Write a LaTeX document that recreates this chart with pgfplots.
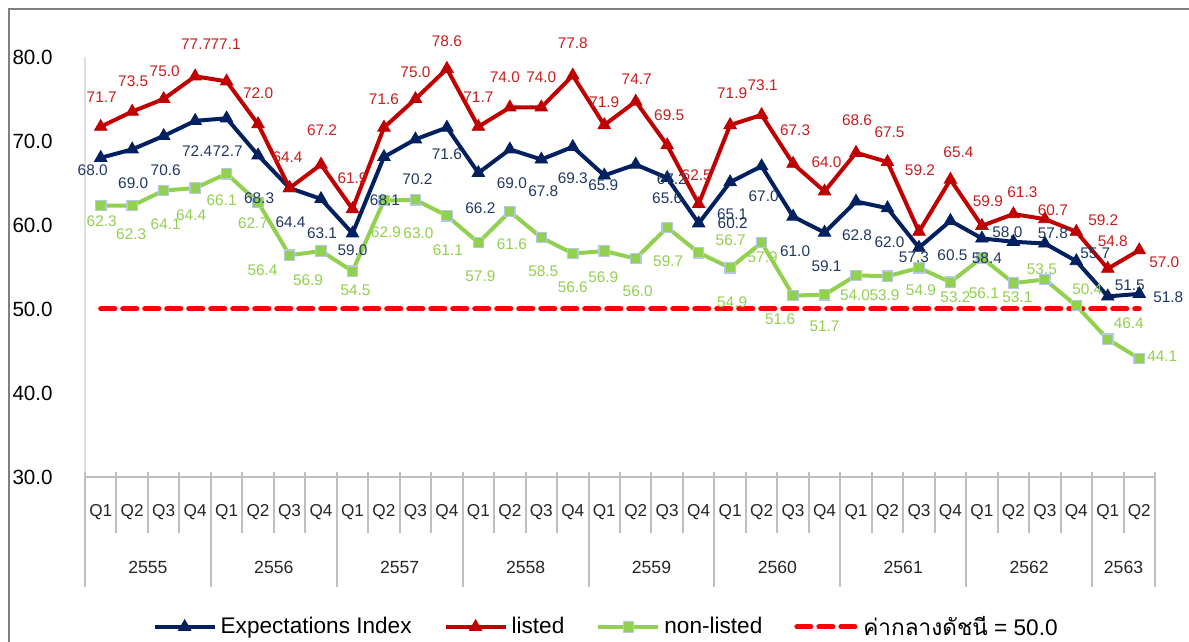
\documentclass[border=0pt]{standalone}
\usepackage{fontspec}
\setmainfont{Liberation Sans}
\newfontfamily\thaifont[Script=Thai]{Loma}
\usepackage{pgfplots}
\usepackage{pgfplotstable}
\pgfplotsset{compat=1.18}
\definecolor{navy}{HTML}{002060}
\definecolor{navylab}{HTML}{203864}
\definecolor{lred}{HTML}{C00000}
\definecolor{redlab}{HTML}{C81E1E}
\definecolor{lgreen}{HTML}{92D050}
\definecolor{sqedge}{HTML}{B4C7E7}
\definecolor{axgray}{HTML}{BFBFBF}

\pgfplotstableread{
k listed ldx ldy exp edx edy non ndx ndy
0  71.7  1 30  68.0 -8 -12  62.3   1 -16
1  73.5  1 30  69.0  1 -34  62.3  -1 -29
2  75.0  1 28  70.6  2 -34  64.1   2 -34
3  77.7  1 32  72.4  2 -30  64.4  -4 -27
4  77.1 -1 37  72.7  1 -33  66.1  -5 -26
5  72.0  0 31  68.3  1 -43  62.7  -5 -21
6  64.4 -2 31  64.4  1 -34  56.4 -27 -15
7  67.2  1 34  63.1  1 -34  56.9 -13 -29
8  61.9  0 31  59.0  0 -17  54.5   3 -19
9  71.6  0 28  68.1  1 -43  62.9   2 -32
10 75.0  0 27  70.2  2 -40  63.0   3 -33
11 78.6  0 28  71.6  0 -27  61.1   1 -34
12 71.7  0 30  66.2  2 -35  57.9   2 -34
13 74.0 -5 30  69.0  2 -34  61.6   2 -33
14 74.0  0 30  67.8  2 -32  58.5   2 -34
15 77.8  0 32  69.3  0 -31  56.6   0 -34
16 71.9  0 23  65.9 -1 -10  56.9  -1 -26
17 74.7  1 22  67.2 36 -15  56.0   2 -33
18 69.5  2 30  65.6  0 -20  59.7   1 -34
19 62.5 -2 29  60.2 34   0  56.7  32  13
20 71.9  2 32  65.1  2 -32  54.9   2 -34
21 73.1  1 30  67.0  2 -30  57.9   1 -15
22 67.3  2 33  61.0  2 -35  51.6 -13 -24
23 64.0  2 29  59.1  2 -34  51.7   0 -32
24 68.6  1 33  62.8  1 -34  54.0  -1 -20
25 67.5  2 30  62.0  2 -34  53.9  -3 -19
26 59.2  1 62  57.3 -5 -10  54.9   2 -22
27 65.4  8 27  60.5  2 -34  53.2   5 -15
28 59.9  6 25  58.4  5 -20  56.1   2 -35
29 61.3  9 22  58.0 -6  10  53.1   4 -14
30 60.7  8  9  57.8  8  10  53.5  -3  10
31 59.2 27 12  55.7 19   8  50.4  11  16
32 54.8  5 27  51.5 22  11  46.4  21  16
33 57.0 25 -12 51.8 29  -3  44.1  23   2
}\datatable

\pgfplotsset{
  labelonly/.style={forget plot, only marks, mark=text, text mark={},
    mark options={draw=none, fill=none},
    nodes near coords={\pgfmathprintnumber[fixed,fixed zerofill,precision=1,assume math mode=true]{\pgfplotspointmeta}}},
}

\begin{document}
\begin{tikzpicture}
\useasboundingbox (0,0) rectangle (594.5pt,321pt);
\fill[white] (0,0) rectangle (594.5pt,321pt);
% outer frame (left and top visible)
\draw[gray, line width=1pt] (4.5pt,0pt) -- (4.5pt,316.5pt) -- (594.5pt,316.5pt);
\begin{axis}[
  at={(42.5pt,82.5pt)}, anchor=south west,
  scale only axis, width=535pt, height=210pt,
  xmin=-0.5, xmax=33.5, ymin=30, ymax=80,
  clip=false,
  axis x line*=bottom, axis y line*=left,
  x axis line style={-, draw=axgray, line width=1pt},
  y axis line style={-, draw=gray!25, line width=1pt},
  major tick length=0pt,
  xtick={0,...,33},
  xticklabels={Q1,Q2,Q3,Q4,Q1,Q2,Q3,Q4,Q1,Q2,Q3,Q4,Q1,Q2,Q3,Q4,Q1,Q2,Q3,Q4,Q1,Q2,Q3,Q4,Q1,Q2,Q3,Q4,Q1,Q2,Q3,Q4,Q1,Q2},
  xticklabel style={font=\fontsize{8.6}{10}\selectfont, text=black!85, anchor=center, yshift=-17.5pt},
  ytick={30,40,50,60,70,80},
  yticklabel={\pgfmathprintnumber[fixed,fixed zerofill,precision=1,assume math mode=true]{\tick}},
  yticklabel style={font=\fontsize{10.3}{12}\selectfont, text=black, anchor=east, inner sep=0pt, xshift=-16pt},
  legend columns=4,
  legend style={at={(0.488,-0.357)}, anchor=center, draw=none, fill=none,
    font=\fontsize{11.3}{13}\selectfont, text=black,
    /tikz/every even column/.append style={column sep=14pt}},
  legend image code/.code={\draw[mark repeat=2,mark phase=2,#1] plot coordinates {(0pt,0pt) (15pt,0pt) (30pt,0pt)};},
  every node near coord/.append style={font=\fontsize{7.7}{9}\selectfont, anchor=center, inner sep=0pt},
]
\addlegendimage{navy, line width=2pt, mark=triangle*, mark size=3.6pt, mark options={solid, fill=navy, draw=navy, line width=0.4pt}}
\addlegendentry{Expectations Index}
\addlegendimage{lred, line width=2pt, mark=triangle*, mark size=3.6pt, mark options={solid, fill=lred, draw=lred, line width=0.4pt}}
\addlegendentry{listed}
\addlegendimage{lgreen, line width=2pt, mark=square*, mark size=2.6pt, mark options={solid, fill=lgreen, draw=sqedge, line width=0.6pt}}
\addlegendentry{non-listed}
\addlegendimage{red, line width=2.5pt, dash pattern=on 7pt off 4pt, line cap=round}
\addlegendentry{{\thaifont ค่ากลางดัชนี} = 50.0}

% lines and markers
\addplot[forget plot, navy, line width=2pt, mark=triangle*, mark size=3.6pt,
  mark options={solid, fill=navy, draw=navy, line width=0.4pt}]
  table[x=k, y=exp] {\datatable};
\addplot[forget plot, lred, line width=2pt, mark=triangle*, mark size=3.6pt,
  mark options={solid, fill=lred, draw=lred, line width=0.4pt}]
  table[x=k, y=listed] {\datatable};
\addplot[forget plot, lgreen, line width=2pt, mark=square*, mark size=2.6pt,
  mark options={solid, fill=lgreen, draw=sqedge, line width=0.6pt}]
  table[x=k, y=non] {\datatable};
\addplot[forget plot, red, line width=2.5pt, dash pattern=on 7pt off 4pt, line cap=round] coordinates {(0,50) (33,50)};

% data labels on top
\addplot[labelonly,
  visualization depends on={\thisrow{edx}\as\ddx},
  visualization depends on={\thisrow{edy}\as\ddy},
  every node near coord/.append style={text=navylab, xshift=\ddx*0.5pt, yshift=\ddy*0.5pt}]
  table[x=k, y=exp] {\datatable};
\addplot[labelonly,
  visualization depends on={\thisrow{ldx}\as\ddx},
  visualization depends on={\thisrow{ldy}\as\ddy},
  every node near coord/.append style={text=redlab, xshift=\ddx*0.5pt, yshift=\ddy*0.5pt}]
  table[x=k, y=listed] {\datatable};
\addplot[labelonly,
  visualization depends on={\thisrow{ndx}\as\ddx},
  visualization depends on={\thisrow{ndy}\as\ddy},
  every node near coord/.append style={text=lgreen, xshift=\ddx*0.5pt, yshift=\ddy*0.5pt}]
  table[x=k, y=non] {\datatable};

% year labels
\node[font=\fontsize{8.8}{10}\selectfont, text=black!85] at (axis cs:1.5,30) [yshift=-45pt] {2555};
\node[font=\fontsize{8.8}{10}\selectfont, text=black!85] at (axis cs:5.5,30) [yshift=-45pt] {2556};
\node[font=\fontsize{8.8}{10}\selectfont, text=black!85] at (axis cs:9.5,30) [yshift=-45pt] {2557};
\node[font=\fontsize{8.8}{10}\selectfont, text=black!85] at (axis cs:13.5,30) [yshift=-45pt] {2558};
\node[font=\fontsize{8.8}{10}\selectfont, text=black!85] at (axis cs:17.5,30) [yshift=-45pt] {2559};
\node[font=\fontsize{8.8}{10}\selectfont, text=black!85] at (axis cs:21.5,30) [yshift=-45pt] {2560};
\node[font=\fontsize{8.8}{10}\selectfont, text=black!85] at (axis cs:25.5,30) [yshift=-45pt] {2561};
\node[font=\fontsize{8.8}{10}\selectfont, text=black!85] at (axis cs:29.5,30) [yshift=-45pt] {2562};
\node[font=\fontsize{8.8}{10}\selectfont, text=black!85] at (axis cs:32.5,30) [yshift=-45pt] {2563};
\end{axis}
% category separators
\foreach \j in {0,...,34}{
  \pgfmathsetmacro\xx{42.5+\j*15.735294}
  \pgfmathtruncatemacro\m{mod(\j,4)}
  \ifnum\j=34 \def\m{0}\fi
  \ifnum\m=0
    \draw[axgray, line width=1pt] (\xx pt,85pt) -- (\xx pt,27.5pt);
  \else
    \draw[axgray, line width=1pt] (\xx pt,85pt) -- (\xx pt,54.5pt);
  \fi
}
\end{tikzpicture}
\end{document}
